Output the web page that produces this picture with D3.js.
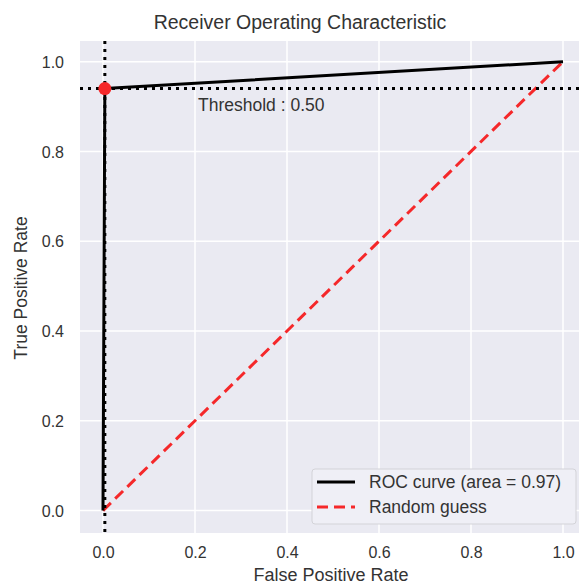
<!DOCTYPE html>
<html>
<head>
<meta charset="utf-8">
<script src="https://cdn.jsdelivr.net/npm/d3@7"></script>
<style>
  html, body { margin: 0; padding: 0; background: #fff; }
  svg { display: block; font-family: "Liberation Sans", Arial, sans-serif; }
</style>
</head>
<body>
<svg id="chart" width="579" height="585"></svg>
<script>
// ROC curve points
const fpr = [0.0, 0.004, 1.0];
const tpr = [0.0, 0.94, 1.0];
// chance line
const guessX = [0.0, 1.0];
const guessY = [0.0, 1.0];
// operating point at the chosen threshold
const thresholdIndex = 1;
const thresholdValue = 0.50;
const aucValue = 0.97;
const tickValues = [0.0, 0.2, 0.4, 0.6, 0.8, 1.0];

const svg = d3.select("#chart");
const W = 579, H = 585;

const x = d3.scaleLinear().domain([-0.05, 1.05]).range([80, 586]);
const y = d3.scaleLinear().domain([-0.05, 1.05]).range([533, 39.2]);

const textColor = "#333";

// clip everything to the axes area and the page
svg.append("defs").append("clipPath").attr("id", "plotClip")
  .append("rect").attr("x", 80).attr("y", 41).attr("width", W - 80).attr("height", 533 - 41);

const plotTop = 41;
svg.append("rect")
  .attr("x", 80).attr("y", plotTop)
  .attr("width", W - 80).attr("height", 533 - plotTop)
  .attr("fill", "#EAEAF2");

const plot = svg.append("g").attr("clip-path", "url(#plotClip)");

// grid
plot.selectAll("line.gx").data(tickValues).join("line")
  .attr("x1", d => x(d)).attr("x2", d => x(d))
  .attr("y1", plotTop).attr("y2", 533)
  .attr("stroke", "#fff").attr("stroke-width", 1.5);
plot.selectAll("line.gy").data(tickValues).join("line")
  .attr("y1", d => y(d)).attr("y2", d => y(d))
  .attr("x1", 80).attr("x2", W)
  .attr("stroke", "#fff").attr("stroke-width", 1.5);

// axes tick labels (no tick marks, seaborn style)
const xAxis = d3.axisBottom(x).tickValues(tickValues).tickFormat(d3.format(".1f")).tickSize(0).tickPadding(0);
const gx = svg.append("g").attr("transform", "translate(0,533)").call(xAxis);
gx.select(".domain").remove();
gx.attr("font-family", null);
gx.selectAll("text").attr("fill", textColor).attr("font-size", 16)
  .attr("dy", null).attr("y", 25);

const yAxis = d3.axisLeft(y).tickValues(tickValues).tickFormat(d3.format(".1f")).tickSize(0).tickPadding(0);
const gy = svg.append("g").attr("transform", "translate(64,0)").call(yAxis);
gy.select(".domain").remove();
gy.attr("font-family", null);
gy.selectAll("text").attr("fill", textColor).attr("font-size", 16)
  .attr("dy", "0.35em").attr("x", 0);

// random guess
const line = d3.line().x(d => x(d[0])).y(d => y(d[1]));
plot.append("path")
  .attr("d", line(d3.zip(guessX, guessY)))
  .attr("fill", "none").attr("stroke", "#f5282a").attr("stroke-width", 3)
  .attr("stroke-dasharray", "11,6");

// ROC curve
plot.append("path")
  .attr("d", line(d3.zip(fpr, tpr)))
  .attr("fill", "none").attr("stroke", "#000").attr("stroke-width", 3)
  .attr("stroke-linejoin", "round");

// crosshair at the operating point
const px = fpr[thresholdIndex], py = tpr[thresholdIndex];
plot.append("line")
  .attr("x1", x(px)).attr("x2", x(px)).attr("y1", plotTop).attr("y2", 533)
  .attr("stroke", "#000").attr("stroke-width", 3).attr("stroke-dasharray", "3,5");
plot.append("line")
  .attr("y1", y(py)).attr("y2", y(py)).attr("x1", 80).attr("x2", W)
  .attr("stroke", "#000").attr("stroke-width", 3).attr("stroke-dasharray", "3,5");

plot.append("circle")
  .attr("cx", x(px)).attr("cy", y(py)).attr("r", 6.5)
  .attr("fill", "#f5282a");

svg.append("text")
  .attr("x", 198).attr("y", y(py) + 22)
  .attr("fill", textColor).attr("font-size", 17.5)
  .text("Threshold : " + thresholdValue.toFixed(2));

// legend
const lg = svg.append("g");
lg.append("rect")
  .attr("x", 312).attr("y", 469).attr("width", 264).attr("height", 55).attr("rx", 3)
  .attr("fill", "#EFEFF6").attr("stroke", "#d3d3d8").attr("stroke-width", 1);
lg.append("line").attr("x1", 317).attr("x2", 355).attr("y1", 482).attr("y2", 482)
  .attr("stroke", "#000").attr("stroke-width", 3);
lg.append("line").attr("x1", 317).attr("x2", 355).attr("y1", 507).attr("y2", 507)
  .attr("stroke", "#f5282a").attr("stroke-width", 3).attr("stroke-dasharray", "11,6");
lg.append("text").attr("x", 369).attr("y", 482).attr("dy", "0.35em")
  .attr("fill", textColor).attr("font-size", 17.5)
  .text("ROC curve (area = " + aucValue.toFixed(2) + ")");
lg.append("text").attr("x", 369).attr("y", 507).attr("dy", "0.35em")
  .attr("fill", textColor).attr("font-size", 17.5)
  .text("Random guess");

// titles
svg.append("text").attr("x", 300).attr("y", 29)
  .attr("text-anchor", "middle").attr("fill", textColor).attr("font-size", 19.5)
  .text("Receiver Operating Characteristic");
svg.append("text").attr("x", 331).attr("y", 581)
  .attr("text-anchor", "middle").attr("fill", textColor).attr("font-size", 18)
  .text("False Positive Rate");
svg.append("text")
  .attr("transform", "translate(27,288) rotate(-90)")
  .attr("text-anchor", "middle").attr("fill", textColor).attr("font-size", 17.5)
  .text("True Positive Rate");
</script>
</body>
</html>
